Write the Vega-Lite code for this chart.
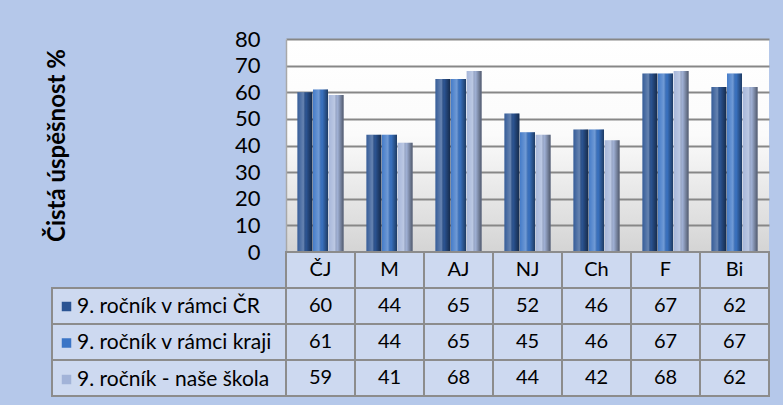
{
  "$schema": "https://vega.github.io/schema/vega-lite/v6.json",
  "autosize": {"type": "pad"},
  "padding": {"left": 45, "top": 28, "right": 13, "bottom": 8},
  "background": "#b5c8ea",
  "config": {
    "view": {"stroke": null},
    "font": "Lato",
    "text": {"font": "Lato"}
  },
  "data": {
    "values": [
      {"predmet": "ČJ", "skupina": "9. ročník  v rámci ČR", "hodnota": 60},
      {"predmet": "ČJ", "skupina": "9. ročník  v rámci kraji", "hodnota": 61},
      {"predmet": "ČJ", "skupina": "9. ročník - naše škola", "hodnota": 59},
      {"predmet": "M", "skupina": "9. ročník  v rámci ČR", "hodnota": 44},
      {"predmet": "M", "skupina": "9. ročník  v rámci kraji", "hodnota": 44},
      {"predmet": "M", "skupina": "9. ročník - naše škola", "hodnota": 41},
      {"predmet": "AJ", "skupina": "9. ročník  v rámci ČR", "hodnota": 65},
      {"predmet": "AJ", "skupina": "9. ročník  v rámci kraji", "hodnota": 65},
      {"predmet": "AJ", "skupina": "9. ročník - naše škola", "hodnota": 68},
      {"predmet": "NJ", "skupina": "9. ročník  v rámci ČR", "hodnota": 52},
      {"predmet": "NJ", "skupina": "9. ročník  v rámci kraji", "hodnota": 45},
      {"predmet": "NJ", "skupina": "9. ročník - naše škola", "hodnota": 44},
      {"predmet": "Ch", "skupina": "9. ročník  v rámci ČR", "hodnota": 46},
      {"predmet": "Ch", "skupina": "9. ročník  v rámci kraji", "hodnota": 46},
      {"predmet": "Ch", "skupina": "9. ročník - naše škola", "hodnota": 42},
      {"predmet": "F", "skupina": "9. ročník  v rámci ČR", "hodnota": 67},
      {"predmet": "F", "skupina": "9. ročník  v rámci kraji", "hodnota": 67},
      {"predmet": "F", "skupina": "9. ročník - naše škola", "hodnota": 68},
      {"predmet": "Bi", "skupina": "9. ročník  v rámci ČR", "hodnota": 62},
      {"predmet": "Bi", "skupina": "9. ročník  v rámci kraji", "hodnota": 67},
      {"predmet": "Bi", "skupina": "9. ročník - naše škola", "hodnota": 62}
    ]
  },
  "columns": 2,
  "spacing": 0,
  "bounds": "flush",
  "resolve": {"scale": {"x": "independent", "y": "independent", "color": "shared"}},
  "concat": [
    {
      "width": 234,
      "height": 213,
      "data": {"values": [{"prazdne": ""}]},
      "mark": {"type": "text"},
      "encoding": {"text": {"field": "prazdne"}}
    },
    {
      "width": 483,
      "height": 213,
      "view": {
        "stroke": null,
        "fill": {
          "gradient": "linear", "x1": 0, "y1": 0, "x2": 0, "y2": 1,
          "stops": [
            {"offset": 0, "color": "#ffffff"},
            {"offset": 0.45, "color": "#fbfbfb"},
            {"offset": 1, "color": "#d4d4d4"}
          ]
        }
      },
      "encoding": {
        "x": {
          "field": "predmet", "type": "nominal",
          "scale": {"domain": ["ČJ", "M", "AJ", "NJ", "Ch", "F", "Bi"], "paddingInner": 0.33, "paddingOuter": 0.165},
          "axis": null
        },
        "xOffset": {
          "field": "skupina", "type": "nominal",
          "scale": {"domain": ["9. ročník  v rámci ČR", "9. ročník  v rámci kraji", "9. ročník - naše škola"], "paddingInner": 0.04}
        },
        "y": {
          "field": "hodnota", "type": "quantitative",
          "scale": {"domain": [0, 80], "nice": false},
          "axis": {
            "values": [0, 10, 20, 30, 40, 50, 60, 70, 80],
            "title": "Čistá úspěšnost %",
            "titleFont": "Lato",
            "titleFontSize": 24,
            "titleFontWeight": "bold",
            "titleColor": "#000000",
            "titleX": -229,
            "titleY": 106,
            "titleAngle": 270,
            "titleAlign": "center",
            "titleBaseline": "middle",
            "labelFont": "Lato",
            "labelFontSize": 22,
            "labelColor": "#000000",
            "labelPadding": 26,
            "ticks": false,
            "tickSize": 0,
            "grid": true,
            "gridColor": "#878787",
            "gridWidth": 2,
            "domainColor": "#a8a8a8",
            "domainWidth": 1.5
          }
        }
      },
      "layer": [
        {
          "mark": {"type": "bar"},
          "encoding": {
            "color": {
              "field": "skupina", "type": "nominal",
              "scale": {
                "domain": ["9. ročník  v rámci ČR", "9. ročník  v rámci kraji", "9. ročník - naše škola"],
                "range": ["#2b5493", "#3b75c6", "#a2b3d8"]
              },
              "legend": {
                "orient": "none",
                "legendX": 4,
                "legendY": 257,
                "title": null,
                "direction": "vertical",
                "padding": 0,
                "symbolType": "square",
                "symbolSize": 90,
                "symbolStrokeWidth": 0,
                "labelFont": "Lato",
                "labelFontSize": 21,
                "labelColor": "#000000",
                "labelLimit": 300,
                "labelOffset": 0,
                "rowPadding": 14.5
              }
            }
          }
        },
        {
          "mark": {
            "type": "bar",
            "fill": {
              "gradient": "linear", "x1": 0, "y1": 0, "x2": 1, "y2": 0,
              "stops": [
                {"offset": 0, "color": "rgba(255,255,255,0.05)"},
                {"offset": 0.4, "color": "rgba(255,255,255,0.28)"},
                {"offset": 0.6, "color": "rgba(0,0,0,0.02)"},
                {"offset": 1, "color": "rgba(0,0,0,0.5)"}
              ]
            }
          }
        }
      ]
    },
    {
      "width": 234,
      "height": 144,
      "transform": [{"aggregate": [{"op": "count", "as": "pocet"}], "groupby": ["skupina"]}],
      "mark": {"type": "rect", "fill": "#cdd9f0", "stroke": "#8c8c8c", "strokeWidth": 2},
      "encoding": {
        "x": {"datum": "popis", "type": "nominal", "scale": {"paddingInner": 0, "paddingOuter": 0}, "axis": null},
        "y": {
          "field": "skupina", "type": "nominal",
          "scale": {"domain": ["hlavička", "9. ročník  v rámci ČR", "9. ročník  v rámci kraji", "9. ročník - naše škola"], "paddingInner": 0, "paddingOuter": 0},
          "axis": null
        }
      }
    },
    {
      "width": 483,
      "height": 144,
      "layer": [
        {
          "mark": {"type": "rect", "fill": "#cdd9f0", "stroke": "#8c8c8c", "strokeWidth": 2},
          "encoding": {
            "x": {"field": "predmet", "type": "nominal", "scale": {"domain": ["ČJ", "M", "AJ", "NJ", "Ch", "F", "Bi"], "paddingInner": 0, "paddingOuter": 0}, "axis": null},
            "y": {"field": "skupina", "type": "nominal", "scale": {"domain": ["hlavička", "9. ročník  v rámci ČR", "9. ročník  v rámci kraji", "9. ročník - naše škola"], "paddingInner": 0, "paddingOuter": 0}, "axis": null}
          }
        },
        {
          "transform": [{"aggregate": [{"op": "count", "as": "pocet"}], "groupby": ["predmet"]}],
          "mark": {"type": "rect", "fill": "#cdd9f0", "stroke": "#8c8c8c", "strokeWidth": 2},
          "encoding": {
            "x": {"field": "predmet", "type": "nominal", "scale": {"domain": ["ČJ", "M", "AJ", "NJ", "Ch", "F", "Bi"], "paddingInner": 0, "paddingOuter": 0}, "axis": null},
            "y": {"datum": "hlavička", "type": "nominal", "scale": {"domain": ["hlavička", "9. ročník  v rámci ČR", "9. ročník  v rámci kraji", "9. ročník - naše škola"], "paddingInner": 0, "paddingOuter": 0}, "axis": null}
          }
        },
        {
          "mark": {"type": "text", "font": "Lato", "fontSize": 20, "color": "#000000", "align": "center", "baseline": "middle"},
          "encoding": {
            "x": {"field": "predmet", "type": "nominal", "scale": {"domain": ["ČJ", "M", "AJ", "NJ", "Ch", "F", "Bi"], "paddingInner": 0, "paddingOuter": 0}, "axis": null},
            "y": {"field": "skupina", "type": "nominal", "scale": {"domain": ["hlavička", "9. ročník  v rámci ČR", "9. ročník  v rámci kraji", "9. ročník - naše škola"], "paddingInner": 0, "paddingOuter": 0}, "axis": null},
            "text": {"field": "hodnota", "type": "quantitative"}
          }
        },
        {
          "transform": [{"aggregate": [{"op": "count", "as": "pocet"}], "groupby": ["predmet"]}],
          "mark": {"type": "text", "font": "Lato", "fontSize": 20, "color": "#000000", "align": "center", "baseline": "middle"},
          "encoding": {
            "x": {"field": "predmet", "type": "nominal", "scale": {"domain": ["ČJ", "M", "AJ", "NJ", "Ch", "F", "Bi"], "paddingInner": 0, "paddingOuter": 0}, "axis": null},
            "y": {"datum": "hlavička", "type": "nominal", "scale": {"domain": ["hlavička", "9. ročník  v rámci ČR", "9. ročník  v rámci kraji", "9. ročník - naše škola"], "paddingInner": 0, "paddingOuter": 0}, "axis": null},
            "text": {"field": "predmet", "type": "nominal"}
          }
        }
      ]
    }
  ]
}
